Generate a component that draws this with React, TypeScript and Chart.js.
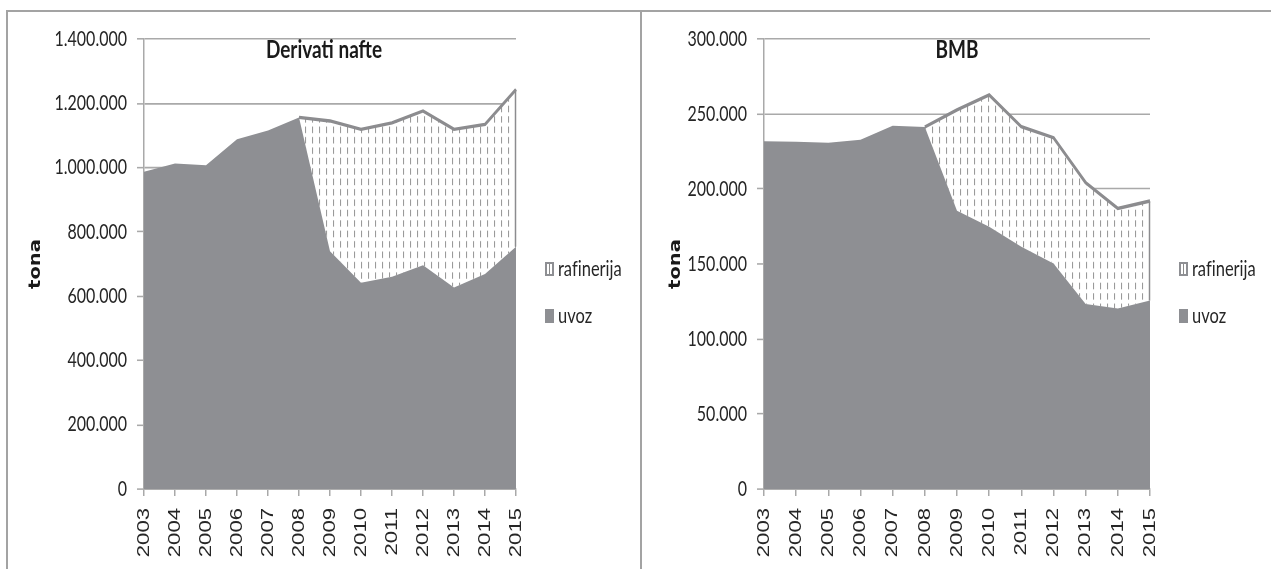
import React, { useEffect, useRef } from 'react';
import { Chart, registerables } from 'chart.js';

Chart.register(...registerables);

// Years on the category axis
const YEARS = ['2003', '2004', '2005', '2006', '2007', '2008', '2009', '2010', '2011', '2012', '2013', '2014', '2015'];

// Derivati nafte (tona): import and domestic refinery output
const DERIVATI_UVOZ = [987000, 1013000, 1007000, 1088000, 1115000, 1156000, 740000, 642000, 660000, 696000, 627000, 669000, 754000];
const DERIVATI_RAFINERIJA = [null, null, null, null, null, 0, 405000, 477000, 479000, 480000, 492000, 465000, 489000];
const DERIVATI_Y_MAX = 1400000;
const DERIVATI_Y_STEP = 200000;

// BMB (tona): import and domestic refinery output
const BMB_UVOZ = [231800, 231500, 230900, 232900, 242200, 241300, 185500, 174900, 161500, 150400, 123300, 120400, 125600];
const BMB_RAFINERIJA = [null, null, null, null, null, 0, 67200, 87800, 80000, 83800, 80900, 66700, 66400];
const BMB_Y_MAX = 300000;
const BMB_Y_STEP = 50000;

const SERIES_NAMES = ['uvoz', 'rafinerija'];
const AXIS_TITLE = 'tona';

const UVOZ_COLOR = '#8e8f93';
const EDGE_COLOR = '#8c8c8f';
const GRID_COLOR = '#a9a9a9';
const FRAME_COLOR = '#a3a3a3';
const TEXT_COLOR = '#262626';
const HUMANIST = 'Lato, "Open Sans", sans-serif';
const GROTESK = '"Liberation Sans", Arial, sans-serif';

// The panels are laid out in a tall, narrow coordinate space: the canvas
// bitmap is taller than the chart's logical height and everything is drawn
// with a vertical scale factor.
const CANVAS_H = 557;
const LOGICAL_H = 428;
const SY = CANVAS_H / LOGICAL_H;
const v = (px: number) => px / SY;

const formatTona = (n: number) => String(Math.round(n)).replace(/\B(?=(\d{3})+(?!\d))/g, '.');

function makeHatch(ctx: CanvasRenderingContext2D): CanvasPattern {
  const tile = document.createElement('canvas');
  tile.width = 7;
  tile.height = 8;
  const c = tile.getContext('2d')!;
  c.fillStyle = '#ffffff';
  c.fillRect(0, 0, 7, 8);
  c.fillStyle = '#9a9a9a';
  c.fillRect(3, 0, 1, 5);
  return ctx.createPattern(tile, 'repeat')!;
}

const verticalStretch = {
  id: 'verticalStretch',
  beforeDraw(chart: any) {
    chart.ctx.setTransform(1, 0, 0, SY, 0, 0);
  },
};

// Closes the hatched refinery band at the last year with a thin edge
const bandEdge = {
  id: 'bandEdge',
  afterDatasetsDraw(chart: any) {
    const last = YEARS.length - 1;
    const lower = chart.getDatasetMeta(0).data[last];
    const upper = chart.getDatasetMeta(1).data[last];
    if (!lower || !upper || upper.skip) return;
    const { ctx } = chart;
    ctx.save();
    ctx.strokeStyle = EDGE_COLOR;
    ctx.lineWidth = 1.5;
    ctx.beginPath();
    ctx.moveTo(upper.x - 0.5, upper.y);
    ctx.lineTo(upper.x - 0.5, lower.y);
    ctx.stroke();
    ctx.restore();
  },
};

// Panel heading inside the top of the plot area
const panelTitle = {
  id: 'panelTitle',
  afterDatasetsDraw(chart: any, _args: any, opts: any) {
    const { ctx, chartArea } = chart;
    ctx.save();
    ctx.font = `bold 19px ${HUMANIST}`;
    ctx.fillStyle = '#1a1a1a';
    ctx.textAlign = 'center';
    ctx.textBaseline = 'alphabetic';
    ctx.fillText(opts.text, (chartArea.left + chartArea.right) / 2 + opts.dx, chartArea.top + opts.baseline);
    ctx.restore();
  },
};

type PanelProps = {
  title: string;
  uvoz: number[];
  rafinerija: (number | null)[];
  yMax: number;
  yStep: number;
  left: number;
  width: number;
  axisWidth: number;
  padRight: number;
  titleDx: number;
  tonaPad: number;
  legendLeft: number;
};

function Panel(p: PanelProps) {
  const ref = useRef<HTMLCanvasElement | null>(null);

  useEffect(() => {
    const canvas = ref.current!;
    const ctx = canvas.getContext('2d')!;
    const hatch = makeHatch(ctx);
    const chart = new Chart(canvas, {
      type: 'line',
      data: {
        labels: YEARS,
        datasets: [
          {
            label: SERIES_NAMES[0],
            data: p.uvoz,
            fill: 'origin',
            backgroundColor: UVOZ_COLOR,
            borderWidth: 0,
            borderColor: 'rgba(0,0,0,0)',
            pointRadius: 0,
          },
          {
            label: SERIES_NAMES[1],
            data: p.rafinerija,
            fill: '-1',
            backgroundColor: hatch,
            borderColor: EDGE_COLOR,
            borderWidth: 2.6,
            pointRadius: 0,
          },
        ],
      },
      options: {
        animation: false,
        responsive: false,
        maintainAspectRatio: false,
        devicePixelRatio: 1,
        events: [],
        layout: { padding: { left: 0, right: p.padRight, top: v(27), bottom: 0 } },
        elements: { line: { tension: 0 } },
        plugins: {
          legend: { display: false },
          tooltip: { enabled: false },
          panelTitle: { text: p.title, dx: p.titleDx, baseline: v(19.3) },
        } as any,
        scales: {
          x: {
            type: 'category',
            offset: false,
            grid: { display: true, drawOnChartArea: false, drawTicks: true, tickLength: v(7), color: GRID_COLOR, lineWidth: 1.5 },
            border: { display: true, color: GRID_COLOR, width: 1.2 },
            ticks: {
              autoSkip: false,
              minRotation: 90,
              maxRotation: 90,
              padding: v(12),
              color: TEXT_COLOR,
              font: { family: GROTESK, size: 17 },
            },
            afterFit(scale: any) {
              scale.height = LOGICAL_H - v(477);
            },
          },
          y: {
            stacked: true,
            min: 0,
            max: p.yMax,
            grid: { color: GRID_COLOR, lineWidth: 1.2, drawTicks: true, tickLength: 7 },
            border: { display: true, color: GRID_COLOR, width: 1.5 },
            ticks: {
              stepSize: p.yStep,
              padding: 10,
              color: TEXT_COLOR,
              font: { family: HUMANIST, size: 16 },
              callback: (val: any) => formatTona(Number(val)),
            },
            title: {
              display: true,
              text: AXIS_TITLE,
              color: '#1a1a1a',
              font: { family: '"DejaVu Sans", sans-serif', size: 15, weight: 'bold' },
              padding: { top: p.tonaPad, bottom: 0 },
            },
            afterFit(scale: any) {
              scale.width = p.axisWidth;
            },
          },
        },
      } as any,
      plugins: [verticalStretch, bandEdge, panelTitle],
    });
    // enlarge the bitmap to the displayed height and redraw with the stretch
    canvas.height = CANVAS_H;
    chart.draw();
    return () => chart.destroy();
  }, []);

  const textStyle: React.CSSProperties = {
    position: 'absolute',
    left: p.legendLeft + 13,
    font: `16.5px ${HUMANIST}`,
    lineHeight: '20px',
    color: TEXT_COLOR,
    whiteSpace: 'nowrap',
    fontVariantLigatures: 'none',
    transform: `scaleY(${SY})`,
    transformOrigin: 'left top',
  };

  return (
    <>
      <canvas
        ref={ref}
        width={p.width}
        height={LOGICAL_H}
        style={{ position: 'absolute', left: p.left, top: 12, width: p.width, height: CANVAS_H }}
      />
      <div
        style={{
          position: 'absolute',
          left: p.legendLeft,
          top: 262,
          width: 9,
          height: 14,
          boxSizing: 'border-box',
          border: `2px solid ${UVOZ_COLOR}`,
          background: 'linear-gradient(90deg, #fff 0 2px, #8a8a8a 2px 3px, #fff 3px 100%)',
        }}
      />
      <div style={{ ...textStyle, top: 254.7 }}>{SERIES_NAMES[1]}</div>
      <div
        style={{
          position: 'absolute',
          left: p.legendLeft,
          top: 309,
          width: 9,
          height: 14,
          background: UVOZ_COLOR,
        }}
      />
      <div style={{ ...textStyle, top: 302 }}>{SERIES_NAMES[0]}</div>
    </>
  );
}

export default function App() {
  return (
    <div style={{ position: 'absolute', left: 0, top: 0, width: 1271, height: 569, background: '#fff', overflow: 'hidden' }}>
      <Panel
        title="Derivati nafte"
        uvoz={DERIVATI_UVOZ}
        rafinerija={DERIVATI_RAFINERIJA}
        yMax={DERIVATI_Y_MAX}
        yStep={DERIVATI_Y_STEP}
        left={8}
        width={630}
        axisWidth={136}
        padRight={122}
        titleDx={-6}
        tonaPad={18.7}
        legendLeft={545}
      />
      <Panel
        title="BMB"
        uvoz={BMB_UVOZ}
        rafinerija={BMB_RAFINERIJA}
        yMax={BMB_Y_MAX}
        yStep={BMB_Y_STEP}
        left={642}
        width={629}
        axisWidth={122}
        padRight={121}
        titleDx={0}
        tonaPad={25}
        legendLeft={1179}
      />
      {/* outer frame and divider between the two panels */}
      <div style={{ position: 'absolute', left: 6, top: 10, width: 1265, height: 2, background: FRAME_COLOR }} />
      <div style={{ position: 'absolute', left: 6, top: 10, width: 2, height: 559, background: FRAME_COLOR }} />
      <div style={{ position: 'absolute', left: 640, top: 10, width: 2, height: 559, background: FRAME_COLOR }} />
    </div>
  );
}
